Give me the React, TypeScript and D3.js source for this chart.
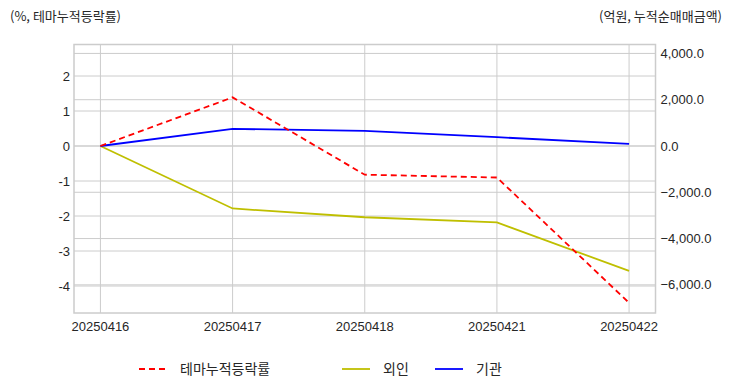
import React from 'react';
import * as d3 from 'd3';

const dates = ['20250416', '20250417', '20250418', '20250421', '20250422'];
const themeRate = [0, 1.39, -0.82, -0.9, -4.48];
const foreign = [0, -2700, -3080, -3300, -5400];
const institution = [0, 740, 650, 380, 90];
const leftTicks = [2, 1, 0, -1, -2, -3, -4];
const rightTicks = [4000, 2000, 0, -2000, -4000, -6000];

const W = 732;
const H = 392;
const plot = { left: 74, right: 655.5, top: 44.5, bottom: 313 };
const font = '"Liberation Sans", Arial, "Noto Sans CJK KR", sans-serif';
const krFont = '"Noto Sans CJK KR", "Liberation Sans", sans-serif';
const textColor = '#262626';
const gridColor = '#cccccc';

const App = () => {
  const x = d3.scalePoint<string>()
    .domain(dates)
    .range([plot.left, plot.right])
    .padding(0.2);

  const yLeft = d3.scaleLinear()
    .domain([-4.771, 2.9])
    .range([plot.bottom, plot.top]);

  const yRight = d3.scaleLinear()
    .domain([-7217, 4386])
    .range([plot.bottom, plot.top]);

  const lineLeft = d3.line<number>()
    .x((d, i) => x(dates[i]) as number)
    .y(d => yLeft(d));

  const lineRight = d3.line<number>()
    .x((d, i) => x(dates[i]) as number)
    .y(d => yRight(d));

  const fmt = d3.format(',.1f');

  const legend = [
    { label: '테마누적등락률', color: '#ff0000', dash: '6,4', x: 139 },
    { label: '외인', color: '#bfbf00', dash: null, x: 342 },
    { label: '기관', color: '#0000ff', dash: null, x: 435 },
  ];

  return (
    <svg width={W} height={H} style={{ position: 'absolute', left: 0, top: 0, background: '#fff' }}>
      {/* titles */}
      <text x={10} y={21} fontSize={13} fontFamily={krFont} fill={textColor}>(%, 테마누적등락률)</text>
      <text x={722} y={21} fontSize={13} fontFamily={krFont} fill={textColor} textAnchor="end">(억원, 누적순매매금액)</text>

      {/* grid */}
      <g stroke={gridColor} strokeWidth={1}>
        {dates.map(d => (
          <line key={d} x1={x(d)} x2={x(d)} y1={plot.top} y2={plot.bottom} />
        ))}
        {leftTicks.map(t => (
          <line key={'l' + t} x1={plot.left} x2={plot.right} y1={yLeft(t)} y2={yLeft(t)} />
        ))}
        {rightTicks.map(t => (
          <line key={'r' + t} x1={plot.left} x2={plot.right} y1={yRight(t)} y2={yRight(t)} />
        ))}
      </g>

      {/* frame */}
      <rect x={plot.left} y={plot.top} width={plot.right - plot.left} height={plot.bottom - plot.top}
        fill="none" stroke={gridColor} strokeWidth={1.5} />

      {/* left axis */}
      {leftTicks.map(t => (
        <text key={'lt' + t} x={plot.left - 4} y={yLeft(t)} dy="0.35em" textAnchor="end"
          fontSize={13} fontFamily={font} fill={textColor}>{t}</text>
      ))}

      {/* right axis */}
      {rightTicks.map(t => (
        <text key={'rt' + t} x={plot.right + 5} y={yRight(t)} dy="0.35em"
          fontSize={13} fontFamily={font} fill={textColor}>{fmt(t)}</text>
      ))}

      {/* x axis */}
      {dates.map(d => (
        <text key={'xt' + d} x={x(d)} y={plot.bottom + 18} textAnchor="middle"
          fontSize={13} fontFamily={font} fill={textColor}>{d}</text>
      ))}

      {/* series */}
      <path d={lineRight(foreign) || ''} fill="none" stroke="#bfbf00" strokeWidth={1.8} />
      <path d={lineRight(institution) || ''} fill="none" stroke="#0000ff" strokeWidth={1.8} />
      <path d={lineLeft(themeRate) || ''} fill="none" stroke="#ff0000" strokeWidth={1.8} strokeDasharray="6,4" />

      {/* legend */}
      {legend.map(l => (
        <g key={l.label} transform={`translate(${l.x},369)`}>
          <line x1={0} x2={28} y1={0} y2={0} stroke={l.color} strokeWidth={1.8}
            strokeDasharray={l.dash || undefined} />
          <text x={41} y={0} dy="0.35em" fontSize={14} fontFamily={krFont} fill={textColor}>{l.label}</text>
        </g>
      ))}
    </svg>
  );
};

export default App;
